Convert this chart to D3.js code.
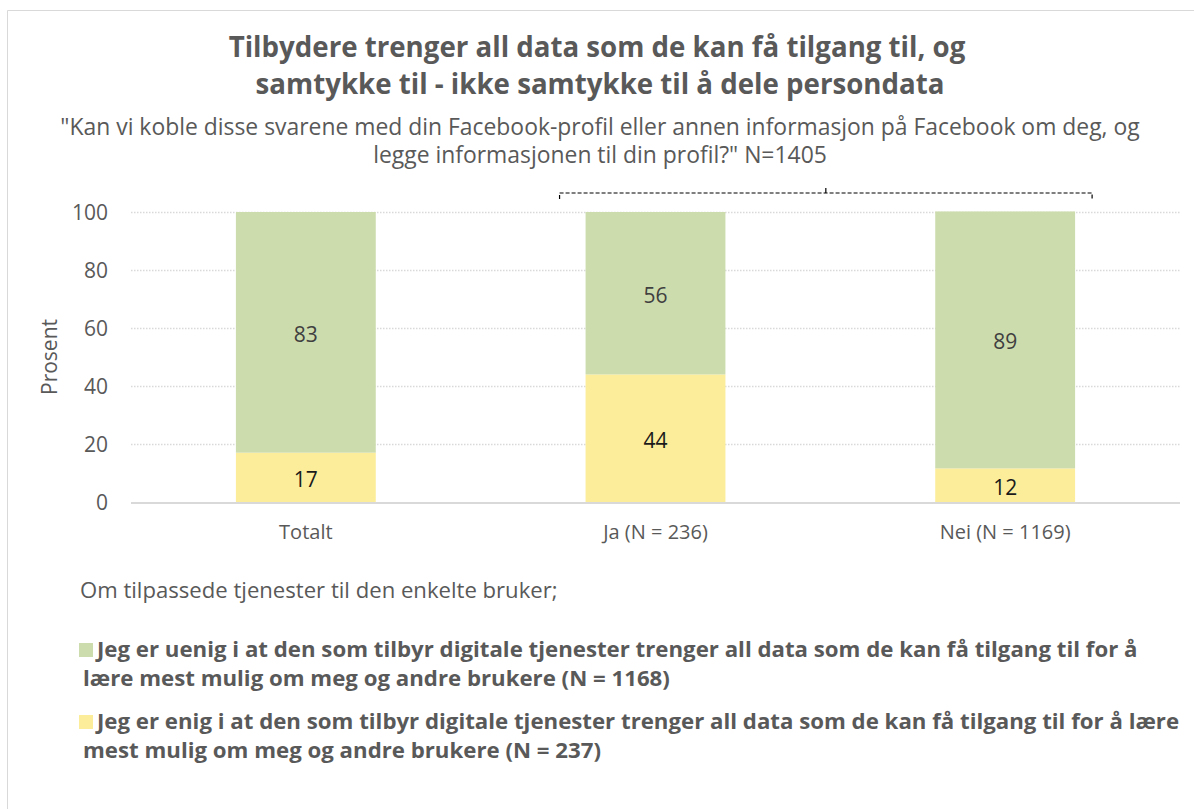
<!DOCTYPE html>
<html>
<head>
<meta charset="utf-8">
<script src="https://cdn.jsdelivr.net/npm/d3@7"></script>
<style>
  html, body { margin: 0; padding: 0; background: #fff; }
  svg text { font-family: "Open Sans", sans-serif; }
</style>
</head>
<body>
<svg id="chart" width="1194" height="809"></svg>
<script>
var categories = ["Totalt", "Ja (N = 236)", "Nei (N = 1169)"];
var enig = [17, 44, 11.6];
var uenig = [83, 56, 88.6];
var yTicks = [0, 20, 40, 60, 80, 100];
var seriesNames = [
  ["Jeg er uenig i at den som tilbyr digitale tjenester trenger all data som de kan få tilgang til for å",
   "lære mest mulig om meg og andre brukere (N = 1168)"],
  ["Jeg er enig i at den som tilbyr digitale tjenester trenger all data som de kan få tilgang til for å lære",
   "mest mulig om meg og andre brukere (N = 237)"]
];
var titleLines = ["Tilbydere trenger all data som de kan få tilgang til, og",
                  "samtykke til - ikke samtykke til å dele persondata"];
var subtitleLines = ["\"Kan vi koble disse svarene med din Facebook-profil eller annen informasjon på Facebook om deg, og",
                     "legge informasjonen til din profil?\" N=1405"];
var noteText = "Om tilpassede tjenester til den enkelte bruker;";

var colors = {uenig: "#cddcad", enig: "#fbed9a"};
var textColor = "#595959";
var fmt = d3.format(".0f");

var svg = d3.select("#chart");

// shrink/grow font so a line gets the width it has in the original
function fit(sel, target) {
  var w = sel.node().getComputedTextLength();
  var fs = parseFloat(sel.attr("font-size"));
  return fs * target / w;
}

// outer frame (only top and left visible)
svg.append("path")
  .attr("d", "M7.5,809 L7.5,10.5 L1194,10.5")
  .attr("fill", "none")
  .attr("stroke", "#d9d9d9")
  .attr("stroke-width", 1);

// title
var title = svg.append("g").attr("fill", textColor).attr("font-weight", "bold").attr("text-anchor", "middle");
var t1 = title.append("text").attr("x", 597).attr("y", 57).attr("font-size", 26).text(titleLines[0]);
var tfs = fit(t1, 737);
t1.attr("font-size", tfs);
title.append("text").attr("x", 600).attr("y", 94).attr("font-size", tfs).text(titleLines[1]);

var sub = svg.append("g").attr("fill", textColor).attr("text-anchor", "middle");
var s1 = sub.append("text").attr("x", 600).attr("y", 135).attr("font-size", 18).text(subtitleLines[0]);
var sfs = fit(s1, 1080);
s1.attr("font-size", sfs);
sub.append("text").attr("x", 600).attr("y", 163).attr("font-size", sfs).text(subtitleLines[1]);

// plot
var margin = {left: 131, right: 1180, top: 212, bottom: 502};
var x = d3.scaleBand().domain(categories).range([margin.left, margin.right]).paddingInner(0.6).paddingOuter(0.3);
var y = d3.scaleLinear().domain([0, 100]).range([margin.bottom, margin.top]);

var grid = svg.append("g");
grid.selectAll("line").data(yTicks.filter(d => d > 0)).enter().append("line")
  .attr("x1", margin.left).attr("x2", margin.right)
  .attr("y1", d => y(d) + 0.5).attr("y2", d => y(d) + 0.5)
  .attr("stroke", "#d9d9d9").attr("stroke-width", 1.3).attr("stroke-dasharray", "1.5,1.5");

var yAxis = d3.axisLeft(y).tickValues(yTicks).tickSize(0).tickPadding(0);
svg.append("g")
  .attr("transform", "translate(108,0)")
  .call(yAxis)
  .call(g => g.select(".domain").remove())
  .selectAll("text")
  .attr("font-size", 21)
  .attr("fill", textColor)
  .attr("dy", "0.35em")
  .style("font-family", "Open Sans");

svg.append("text")
  .attr("transform", "translate(57," + ((margin.top + margin.bottom) / 2) + ") rotate(-90)")
  .attr("text-anchor", "middle")
  .attr("font-size", 21)
  .attr("fill", textColor)
  .text("Prosent");

var rows = categories.map((c, i) => ({cat: c, enig: enig[i], uenig: uenig[i]}));
var stack = d3.stack().keys(["enig", "uenig"])(rows);

var layers = svg.append("g").selectAll("g").data(stack).enter().append("g")
  .attr("fill", d => colors[d.key]);
layers.selectAll("rect").data(d => d).enter().append("rect")
  .attr("x", d => x(d.data.cat))
  .attr("width", x.bandwidth())
  .attr("y", d => y(d[1]))
  .attr("height", d => y(d[0]) - y(d[1]));

layers.selectAll("text").data(d => d.map(v => ({key: d.key, v: v}))).enter().append("text")
  .attr("x", d => x(d.v.data.cat) + x.bandwidth() / 2)
  .attr("y", d => (y(d.v[0]) + y(d.v[1])) / 2 + 2)
  .attr("dy", "0.35em")
  .attr("text-anchor", "middle")
  .attr("font-size", 21)
  .attr("fill", d => d.key === "enig" ? "#1a1a1a" : "#404040")
  .text(d => fmt(d.v.data[d.key]));

// baseline
svg.append("line")
  .attr("x1", margin.left).attr("x2", margin.right)
  .attr("y1", y(0) + 1).attr("y2", y(0) + 1)
  .attr("stroke", "#d9d9d9").attr("stroke-width", 2);

var xAxis = d3.axisBottom(x).tickSize(0).tickPadding(0);
svg.append("g")
  .attr("transform", "translate(0," + (y(0) + 23) + ")")
  .call(xAxis)
  .call(g => g.select(".domain").remove())
  .selectAll("text")
  .attr("font-size", 20)
  .attr("fill", textColor)
  .attr("dy", "0.71em")
  .style("font-family", "Open Sans");

// dashed bracket over Ja / Nei
var bx1 = x(categories[1]) - 26, bx2 = x(categories[2]) + x.bandwidth() + 17, by = 193;
var bmid = (bx1 + bx2) / 2;
var bracket = svg.append("g").attr("fill", "none").attr("stroke", "#000").attr("stroke-width", 1.2);
bracket.append("path")
  .attr("d", "M" + bx1 + "," + (by + 6) + " L" + bx1 + "," + by + " L" + bx2 + "," + by + " L" + bx2 + "," + (by + 6))
  .attr("stroke-dasharray", "4,2");
bracket.append("path")
  .attr("d", "M" + bmid + "," + (by - 5) + " L" + bmid + "," + by);

// note + legend
var note = svg.append("text").attr("x", 80).attr("y", 598).attr("font-size", 18).attr("fill", textColor).text(noteText);
note.attr("font-size", fit(note, 478));

var legend = svg.append("g");
var lkeys = ["uenig", "enig"];
var ly = [657, 729];
var lfs = null;
lkeys.forEach((k, i) => {
  legend.append("rect")
    .attr("x", 79).attr("y", ly[i] - 14).attr("width", 14).attr("height", 14)
    .attr("fill", colors[k]);
  var l1 = legend.append("text").attr("x", 97).attr("y", ly[i]).attr("font-size", 18)
    .attr("font-weight", "bold").attr("fill", textColor).text(seriesNames[i][0]);
  if (lfs === null) lfs = fit(l1, 1041);
  l1.attr("font-size", lfs);
  legend.append("text").attr("x", 83).attr("y", ly[i] + 29).attr("font-size", lfs)
    .attr("font-weight", "bold").attr("fill", textColor).text(seriesNames[i][1]);
});
</script>
</body>
</html>
